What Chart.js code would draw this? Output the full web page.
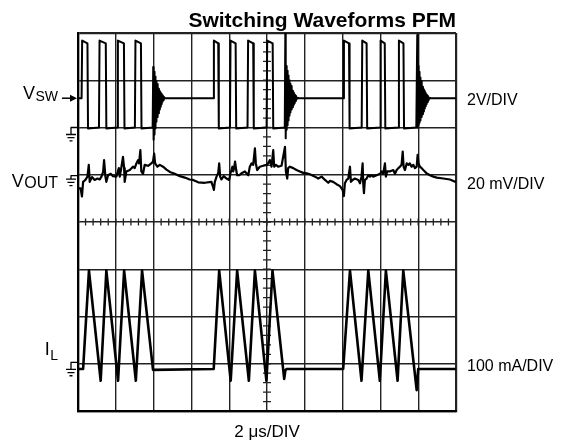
<!DOCTYPE html>
<html>
<head>
<meta charset="utf-8">
<script src="https://cdn.jsdelivr.net/npm/chart.js@4"></script>
<style>
  body { margin: 0; background: #fff; }
  canvas { display: block; }
</style>
</head>
<body>
<canvas id="scope" width="574" height="440"></canvas>
<script>
// ================= DATA =================
// time in µs (2 µs/DIV, 10 DIV), level in divisions from the bottom (8 DIV)
const titleText = "Switching Waveforms PFM";
const timeLabel = "2 μs/DIV";

// switch node
const vswTime = [0, 0.19, 0.22, 0.50, 0.53, 1.11, 1.14, 1.47, 1.50, 2.08, 2.11, 2.43, 2.46, 3.01, 3.04, 3.33, 3.36, 3.95,
  3.98, 4.00, 4.03, 4.05, 4.08, 4.10, 4.13, 4.15, 4.18, 4.20, 4.23, 4.25, 4.28, 4.30, 4.33, 4.35, 4.38, 4.40, 4.43, 4.45, 4.48, 4.50, 4.54, 4.60,
  7.16, 7.19, 7.42, 7.45, 8.04, 8.07, 8.34, 8.37, 8.97, 9.00, 9.27, 9.30, 9.98, 10.01, 10.30, 10.33, 10.94,
  10.97, 10.99, 11.02, 11.04, 11.07, 11.09, 11.12, 11.14, 11.17, 11.19, 11.22, 11.24, 11.27, 11.29, 11.32, 11.34, 11.37, 11.39, 11.42, 11.44, 11.47, 11.49, 11.53, 11.57, 11.62, 11.68,
  14.04, 14.07, 14.34, 14.37, 15.01, 15.04, 15.27, 15.30, 15.98, 16.01, 16.23, 16.26, 16.95, 16.98, 17.22, 17.25, 17.90,
  17.95, 17.97, 18.00, 18.02, 18.05, 18.07, 18.10, 18.12, 18.15, 18.17, 18.20, 18.22, 18.25, 18.27, 18.30, 18.32, 18.35, 18.37, 18.40, 18.42, 18.45, 18.47, 18.51, 18.55, 18.60, 18.66, 20];
const vswLevel = [6.62, 6.62, 7.84, 7.78, 5.98, 6.0, 7.84, 7.78, 5.98, 6.0, 7.84, 7.78, 5.98, 6.0, 7.84, 7.78, 5.98, 6.0,
  7.28, 5.74, 7.18, 5.85, 7.08, 5.98, 6.98, 6.12, 6.92, 6.22, 6.86, 6.30, 6.82, 6.38, 6.77, 6.44, 6.74, 6.50, 6.71, 6.55, 6.68, 6.58, 6.65, 6.62,
  6.62, 7.84, 7.78, 5.98, 6.0, 7.84, 7.78, 5.98, 6.0, 7.84, 7.78, 5.98, 6.0, 7.84, 7.78, 5.98, 6.0,
  8.0, 5.77, 7.30, 5.95, 7.20, 6.05, 7.10, 6.15, 7.00, 6.25, 6.93, 6.32, 6.88, 6.38, 6.83, 6.43, 6.78, 6.48, 6.74, 6.52, 6.70, 6.56, 6.67, 6.60, 6.63, 6.62,
  6.62, 7.84, 7.78, 5.98, 6.0, 7.84, 7.78, 5.98, 6.0, 7.84, 7.78, 5.98, 6.0, 7.84, 7.78, 5.98, 6.0,
  7.96, 6.00, 7.30, 6.05, 7.18, 6.10, 7.06, 6.15, 6.98, 6.22, 6.92, 6.28, 6.86, 6.34, 6.81, 6.40, 6.77, 6.45, 6.73, 6.50, 6.70, 6.54, 6.67, 6.58, 6.63, 6.62, 6.62];

// output ripple
const voutTime = [0, 0.14, 0.21, 0.27, 0.39, 0.50, 0.57, 0.62, 0.74, 0.88, 1.03, 1.15, 1.24, 1.33, 1.38, 1.45, 1.50, 1.59, 1.73, 1.85,
  2.03, 2.16, 2.21, 2.30, 2.38, 2.44, 2.47, 2.56, 2.74, 2.91, 3.00, 3.09, 3.18, 3.23, 3.30, 3.35, 3.44, 3.53, 3.71, 3.88,
  3.97, 4.03, 4.08, 4.20, 4.33, 4.50, 4.68, 4.86, 5.12, 5.39, 5.65, 5.91, 6.09, 6.36, 6.71, 7.06, 7.15, 7.19, 7.24, 7.33,
  7.42, 7.47, 7.52, 7.59, 7.71, 7.86, 8.00, 8.07, 8.12, 8.17, 8.21, 8.26, 8.31, 8.37, 8.42, 8.53, 8.65, 8.83, 9.01, 9.09,
  9.18, 9.27, 9.36, 9.41, 9.48, 9.62, 9.80, 9.98, 10.06, 10.15, 10.24, 10.33, 10.38, 10.47, 10.59, 10.77, 10.95, 11.00, 11.07, 11.12,
  11.21, 11.39, 11.56, 11.74, 11.92, 12.10, 12.27, 12.54, 12.71, 12.89, 13.07, 13.24, 13.33, 13.50, 13.68, 13.86, 14.00, 14.07, 14.12, 14.21,
  14.30, 14.39, 14.44, 14.53, 14.65, 14.83, 14.92, 15.00, 15.06, 15.09, 15.13, 15.18, 15.27, 15.36, 15.45, 15.53, 15.62, 15.80, 15.98, 16.07,
  16.15, 16.24, 16.29, 16.36, 16.50, 16.68, 16.77, 16.86, 16.95, 17.03, 17.12, 17.18, 17.23, 17.30, 17.39, 17.48, 17.56, 17.65, 17.74, 17.83,
  17.92, 17.97, 18.02, 18.09, 18.18, 18.27, 18.35, 18.44, 18.62, 18.80, 18.98, 19.33, 19.68, 19.95, 20];
const voutLevel = [4.71, 4.71, 4.54, 4.85, 4.89, 4.96, 5.21, 4.85, 4.95, 4.89, 4.92, 4.90, 4.96, 5.06, 5.31, 4.96, 4.85, 4.99, 5.02, 4.97,
  4.96, 5.14, 4.96, 5.17, 5.38, 5.14, 4.85, 5.07, 5.10, 5.17, 5.14, 5.24, 5.31, 5.24, 5.52, 5.07, 5.02, 5.21, 5.19, 5.24,
  5.28, 5.45, 5.24, 5.17, 5.21, 5.17, 5.11, 5.06, 5.02, 4.97, 4.94, 4.90, 4.89, 4.84, 4.83, 4.85, 4.74, 4.68, 4.85, 4.96,
  5.04, 5.24, 4.96, 4.90, 4.97, 4.92, 4.89, 5.04, 5.10, 5.17, 5.07, 5.14, 5.28, 5.10, 4.99, 4.99, 5.03, 5.07, 4.99, 5.17,
  5.24, 5.21, 5.56, 5.24, 5.10, 5.17, 5.19, 5.21, 5.24, 5.31, 5.17, 5.52, 5.17, 5.21, 5.17, 5.19, 5.59, 5.07, 4.92, 5.14,
  5.17, 5.14, 5.10, 5.07, 5.04, 5.03, 5.01, 4.96, 4.92, 4.96, 4.89, 4.83, 4.87, 4.85, 4.80, 4.76, 4.68, 4.55, 4.82, 4.89,
  4.92, 5.17, 4.85, 4.89, 4.92, 4.89, 4.82, 4.96, 5.24, 4.82, 4.61, 4.89, 4.92, 4.99, 4.96, 4.99, 4.96, 4.99, 5.02, 5.07,
  5.02, 5.24, 4.96, 5.07, 5.07, 5.10, 5.02, 5.10, 5.14, 5.17, 5.21, 5.49, 5.17, 5.10, 5.24, 5.21, 5.24, 5.17, 5.21, 5.14,
  5.17, 5.42, 5.24, 5.17, 5.14, 5.10, 5.07, 5.03, 4.99, 4.96, 4.94, 4.92, 4.90, 4.85, 4.86];

// inductor current
const ilTime = [0, 0.27, 0.58, 1.20, 1.50, 2.12, 2.44, 3.06, 3.39, 3.97, 7.18, 7.47, 8.08, 8.42, 9.04, 9.36, 9.97, 10.29,
  10.91, 10.97, 11.03, 14.03, 14.39, 15.00, 15.36, 15.97, 16.29, 16.91, 17.21, 17.92, 18.00, 20];
const ilLevel = [0.89, 0.89, 2.97, 0.64, 2.97, 0.64, 2.97, 0.64, 2.97, 0.87, 0.89, 2.97, 0.64, 2.97, 0.64, 2.97, 0.64, 2.97,
  0.68, 0.86, 0.89, 0.89, 2.97, 0.64, 2.97, 0.64, 2.97, 0.64, 2.97, 0.44, 0.89, 0.89];

// channel markers (level in divisions) and scale texts
const groundLevels = [6.0, 4.98, 1.03];
const groundDrops = [7, 3.5, 7];
const vswArrowLevel = 6.62;
const channelNames = [["V", "SW"], ["V", "OUT"], ["I", "L"]];
const channelScales = ["2V/DIV", "20 mV/DIV", "100 mA/DIV"];

const FONT = '"Liberation Sans", Arial, Helvetica, sans-serif';

function toPoints(t, v) {
  return t.map((x, i) => ({ x: x, y: v[i] }));
}

// ================= DECORATIONS =================
function drawGround(ctx, left, y, drop) {
  ctx.save();
  ctx.strokeStyle = "#000";
  ctx.lineWidth = 1.3;
  ctx.beginPath();
  ctx.moveTo(70.5, y); ctx.lineTo(left, y);
  ctx.moveTo(71, y); ctx.lineTo(71, y + drop);
  ctx.moveTo(66, y + drop); ctx.lineTo(76, y + drop);
  ctx.moveTo(67.5, y + drop + 3.2); ctx.lineTo(74.5, y + drop + 3.2);
  ctx.moveTo(69.5, y + drop + 6.4); ctx.lineTo(72.5, y + drop + 6.4);
  ctx.stroke();
  ctx.restore();
}

function drawName(ctx, main, sub, right, base, subDrop, subSize) {
  ctx.font = subSize + "px " + FONT;
  const subW = ctx.measureText(sub).width;
  ctx.fillText(sub, right - subW, base + subDrop);
  ctx.font = "18px " + FONT;
  const mainW = ctx.measureText(main).width;
  ctx.fillText(main, right - subW - mainW - 0.5, base);
}

const scopeDecor = {
  id: "scopeDecor",
  beforeDatasetsDraw(chart) {
    const { ctx, scales: { x, y } } = chart;
    const cx = x.getPixelForValue(10);
    const cy = y.getPixelForValue(4);
    ctx.save();
    ctx.strokeStyle = "#222";
    ctx.lineWidth = 1.3;
    ctx.beginPath();
    // minor ticks on the centre cross, 5 per division
    for (let v = 0.2; v < 8; v += 0.2) {
      const py = y.getPixelForValue(v);
      ctx.moveTo(cx - 4, py); ctx.lineTo(cx + 4, py);
    }
    for (let t = 0.4; t < 20; t += 0.4) {
      const px = x.getPixelForValue(t);
      ctx.moveTo(px, cy - 3.5); ctx.lineTo(px, cy + 3.5);
    }
    ctx.stroke();
    ctx.restore();
  },
  afterDraw(chart) {
    const { ctx, chartArea: area, scales: { x, y } } = chart;
    ctx.save();
    ctx.fillStyle = "#000";
    ctx.textBaseline = "alphabetic";

    // title
    ctx.font = "bold 21px " + FONT;
    ctx.textAlign = "right";
    ctx.fillText(titleText, area.right, 27);
    ctx.textAlign = "left";

    // ground markers
    groundLevels.forEach((g, i) => drawGround(ctx, area.left, y.getPixelForValue(g), groundDrops[i]));

    // VSW arrow
    const ay = y.getPixelForValue(vswArrowLevel);
    ctx.lineWidth = 1.5;
    ctx.beginPath();
    ctx.moveTo(62, ay); ctx.lineTo(72, ay);
    ctx.stroke();
    ctx.beginPath();
    ctx.moveTo(70, ay - 3.5); ctx.lineTo(77, ay); ctx.lineTo(70, ay + 3.5);
    ctx.closePath();
    ctx.fill();

    // channel names
    drawName(ctx, channelNames[0][0], channelNames[0][1], 58, 98.5, 2, 14);
    drawName(ctx, channelNames[1][0], channelNames[1][1], 58, 187, 0.5, 16);
    drawName(ctx, channelNames[2][0], channelNames[2][1], 58, 355, 5, 14);

    // scale texts
    ctx.font = "16px " + FONT;
    ctx.fillText(channelScales[0], 467, 105);
    ctx.fillText(channelScales[1], 467, 189);
    ctx.fillText(channelScales[2], 467, 371);

    ctx.font = "17px " + FONT;
    ctx.textAlign = "center";
    ctx.fillText(timeLabel, x.getPixelForValue(10), 437);
    ctx.restore();
  }
};

// ================= CHART =================
const traceStyle = {
  borderColor: "#000",
  pointRadius: 0,
  tension: 0,
  fill: false,
  borderJoinStyle: "round",
  borderCapStyle: "round"
};

const edgeWidth = (c, a, b) => (c.tick && (c.tick.value === a || c.tick.value === b)) ? 2.2 : 1.4;

new Chart(document.getElementById("scope").getContext("2d"), {
  type: "line",
  data: {
    datasets: [
      Object.assign({ label: "VSW", data: toPoints(vswTime, vswLevel), borderWidth: 2 }, traceStyle),
      Object.assign({ label: "VOUT", data: toPoints(voutTime, voutLevel), borderWidth: 2.2 }, traceStyle),
      Object.assign({ label: "IL", data: toPoints(ilTime, ilLevel), borderWidth: 2.6 }, traceStyle)
    ]
  },
  options: {
    responsive: false,
    animation: false,
    devicePixelRatio: 1,
    layout: { padding: { left: 78, right: 118, top: 33, bottom: 29 } },
    plugins: { legend: { display: false }, tooltip: { enabled: false } },
    scales: {
      x: {
        type: "linear", min: 0, max: 20,
        ticks: { display: false, stepSize: 2 },
        grid: { color: "#222", lineWidth: c => edgeWidth(c, 0, 20), drawTicks: false },
        border: { color: "#000", width: 2.2 },
        afterFit: s => { s.height = 0; }
      },
      y: {
        type: "linear", min: 0, max: 8,
        ticks: { display: false, stepSize: 1 },
        grid: { color: "#222", lineWidth: c => edgeWidth(c, 0, 8), drawTicks: false },
        border: { color: "#000", width: 2.2 },
        afterFit: s => { s.width = 0; }
      }
    }
  },
  plugins: [scopeDecor]
});
</script>
</body>
</html>
